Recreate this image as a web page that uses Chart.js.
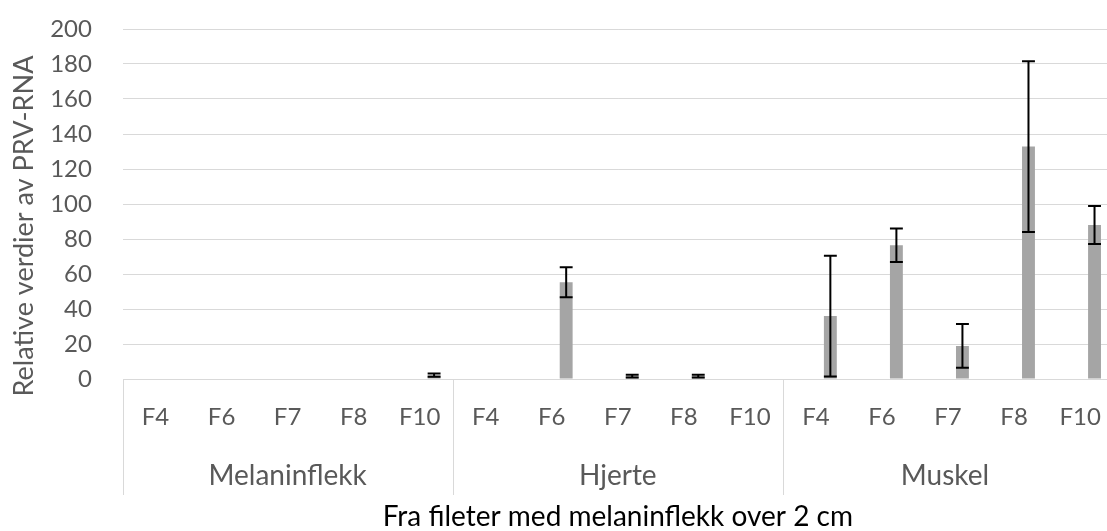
<!DOCTYPE html>
<html>
<head>
<meta charset="utf-8">
<script src="https://cdn.jsdelivr.net/npm/chart.js@4/dist/chart.umd.min.js"></script>
<style>
  html, body { margin: 0; padding: 0; background: #fff; overflow: hidden; }
  #wrap { position: relative; width: 1125px; height: 531px; }
</style>
</head>
<body>
<div id="wrap"><canvas id="c" width="1125" height="531"></canvas></div>
<script>
// Tissue groups and fillet samples shown on the two-level category axis
const tissues = ['Melaninflekk', 'Hjerte', 'Muskel'];
const fillets = ['F4', 'F6', 'F7', 'F8', 'F10'];

// Mean relative PRV-RNA per tissue/fillet (tissue-major order)
const meanMelaninflekk = [0, 0, 0, 0, 2.2];
const meanHjerte       = [0, 55.3, 1.6, 1.6, 0];
const meanMuskel       = [36.0, 76.4, 18.9, 132.8, 88.0];

// Standard deviation drawn as error bars (null = no error bar)
const errMelaninflekk = [null, null, null, null, 0.9];
const errHjerte       = [null, 8.6, 0.8, 0.8, null];
const errMuskel       = [34.5, 9.6, 12.5, 48.8, 10.8];

// Value axis ticks
const yTicks = [0, 20, 40, 60, 80, 100, 120, 140, 160, 180, 200];

const yTitle = 'Relative verdier av PRV-RNA';
const xTitle = 'Fra fileter med melaninflekk over 2 cm';

const labels = tissues.flatMap(() => fillets);
const means = [...meanMelaninflekk, ...meanHjerte, ...meanMuskel];
const errors = [...errMelaninflekk, ...errHjerte, ...errMuskel];
const emptySeries = labels.map(() => null);

const FONT = 'Lato, "Open Sans", "Liberation Sans", sans-serif';
const TEXT_GRAY = '#595959';
const LINE_GRAY = '#d9d9d9';

// Black error bars with flat caps over the grey series
const errorBars = {
  id: 'errorBars',
  afterDatasetsDraw(chart) {
    const meta = chart.getDatasetMeta(1);
    const y = chart.scales.y;
    const ctx = chart.ctx;
    ctx.save();
    ctx.strokeStyle = '#000';
    ctx.lineWidth = 2;
    meta.data.forEach((bar, i) => {
      const e = errors[i];
      if (e == null) return;
      const m = means[i];
      const yTop = y.getPixelForValue(m + e);
      const yBot = y.getPixelForValue(Math.max(0, m - e));
      const half = bar.width / 2;
      ctx.beginPath();
      ctx.moveTo(bar.x, yTop); ctx.lineTo(bar.x, yBot);
      ctx.moveTo(bar.x - half, yTop); ctx.lineTo(bar.x + half, yTop);
      ctx.moveTo(bar.x - half, yBot); ctx.lineTo(bar.x + half, yBot);
      ctx.stroke();
    });
    ctx.restore();
  }
};

// Second axis level (tissue names with dividers) and the value-axis title
const groupAxis = {
  id: 'groupAxis',
  afterDraw(chart) {
    const x = chart.scales.x;
    const ctx = chart.ctx;
    const area = chart.chartArea;
    const halfCat = (x.getPixelForValue(1) - x.getPixelForValue(0)) / 2;
    const visibleRight = Math.min(chart.width, document.documentElement.clientWidth);
    const lineBottom = area.bottom + 116;
    ctx.save();
    ctx.strokeStyle = LINE_GRAY;
    ctx.lineWidth = 1;
    ctx.fillStyle = TEXT_GRAY;
    ctx.font = '28px ' + FONT;
    ctx.textAlign = 'center';
    ctx.textBaseline = 'middle';
    tissues.forEach((name, g) => {
      const x0 = x.getPixelForValue(g * fillets.length) - halfCat;
      const x1 = x.getPixelForValue(g * fillets.length + fillets.length - 1) + halfCat;
      ctx.beginPath();
      ctx.moveTo(Math.round(x0) + 0.5, area.bottom);
      ctx.lineTo(Math.round(x0) + 0.5, lineBottom);
      if (g === tissues.length - 1) {
        ctx.moveTo(Math.round(x1) + 0.5, area.bottom);
        ctx.lineTo(Math.round(x1) + 0.5, lineBottom);
      }
      ctx.stroke();
      const cx = (x0 + Math.min(x1, visibleRight)) / 2;
      ctx.fillText(name, cx, area.bottom + 97);
    });

    // rotated value-axis title
    ctx.font = '27px ' + FONT;
    ctx.textBaseline = 'alphabetic';
    ctx.translate(33, area.bottom - 153);
    ctx.rotate(-Math.PI / 2);
    ctx.fillText(yTitle, 0, 0);
    ctx.restore();
  }
};

new Chart(document.getElementById('c'), {
  type: 'bar',
  data: {
    labels: labels,
    datasets: [
      { label: 'Serie 1', data: emptySeries, backgroundColor: '#5b9bd5' },
      { label: 'Serie 2', data: means, backgroundColor: '#a5a5a5' }
    ]
  },
  options: {
    responsive: false,
    animation: false,
    devicePixelRatio: 1,
    categoryPercentage: 0.872,
    barPercentage: 0.448,
    layout: { padding: { left: 0, right: 5, top: 0, bottom: 0 } },
    plugins: { legend: { display: false }, tooltip: { enabled: false } },
    scales: {
      x: {
        grid: { display: false, drawTicks: false },
        border: { display: false },
        ticks: {
          autoSkip: false, maxRotation: 0, padding: 24,
          color: TEXT_GRAY, font: { family: FONT, size: 24 }
        },
        title: {
          display: true, text: xTitle,
          color: '#000', font: { family: FONT, size: 28, lineHeight: 1.0 }, padding: 0
        },
        afterFit(scale) { scale.height = 152; }
      },
      y: {
        min: 0, max: 200,
        afterBuildTicks(scale) { scale.ticks = yTicks.map(v => ({ value: v })); },
        grid: { color: LINE_GRAY, lineWidth: 1, drawTicks: true, tickLength: 16, tickColor: 'rgba(0,0,0,0)' },
        border: { display: false },
        ticks: { padding: 14.6, color: TEXT_GRAY, font: { family: FONT, size: 24 } },
        afterFit(scale) { scale.width = 122.5; }
      }
    }
  },
  plugins: [errorBars, groupAxis]
});
</script>
</body>
</html>
